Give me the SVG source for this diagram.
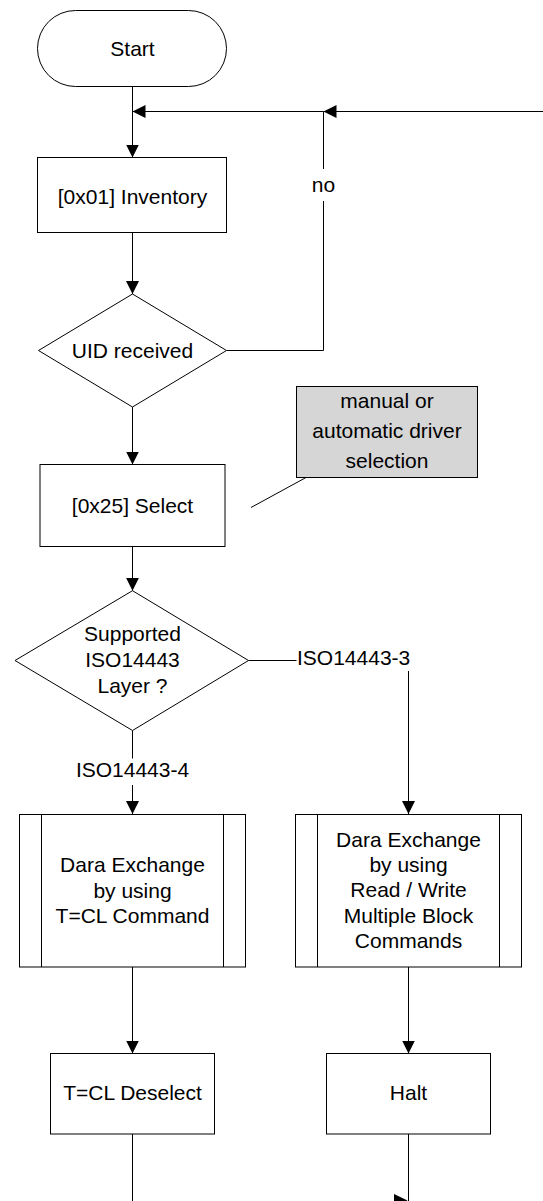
<svg xmlns="http://www.w3.org/2000/svg" width="543" height="1201" viewBox="0 0 543 1201">
  <style>
    .shape { fill: #ffffff; stroke: #000000; stroke-width: 1; }
    .note { fill: #d6d6d6; stroke: #000000; stroke-width: 1; }
    .line { fill: none; stroke: #000000; stroke-width: 1; }
    .head { fill: #000000; stroke: none; }
    text { font-family: "Liberation Sans", Arial, sans-serif; font-size: 21px; fill: #000000; text-anchor: middle; }
    .start { text-anchor: start; }
  </style>
  <defs>
    <marker id="arrow" markerUnits="userSpaceOnUse" markerWidth="13" markerHeight="13" refX="13" refY="6.5" orient="auto">
      <path class="head" d="M0,0 L13,6.5 L0,13 z"/>
    </marker>
  </defs>

  <!-- connectors -->
  <g id="connectors">
    <line class="line" x1="132.5" y1="86.5" x2="132.5" y2="157.5" marker-end="url(#arrow)"/>
    <line class="line" x1="543" y1="111.5" x2="323.5" y2="111.5" marker-end="url(#arrow)"/>
    <line class="line" x1="323.5" y1="111.5" x2="132.5" y2="111.5" marker-end="url(#arrow)"/>
    <polyline class="line" points="226.5,350.5 323.5,350.5 323.5,201"/>
    <line class="line" x1="323.5" y1="169" x2="323.5" y2="111.5"/>
    <text x="323.5" y="191.5">no</text>
    <line class="line" x1="132.5" y1="232.5" x2="132.5" y2="294" marker-end="url(#arrow)"/>
    <line class="line" x1="132.5" y1="407" x2="132.5" y2="464.5" marker-end="url(#arrow)"/>
    <line class="line" x1="132.5" y1="546.5" x2="132.5" y2="590.7" marker-end="url(#arrow)"/>
    <line class="line" x1="306" y1="477.5" x2="251" y2="507.5"/>
    <line class="line" x1="132.5" y1="730.5" x2="132.5" y2="758.5"/>
    <text x="132.5" y="777.3">ISO14443-4</text>
    <line class="line" x1="132.5" y1="785" x2="132.5" y2="814" marker-end="url(#arrow)"/>
    <line class="line" x1="248.5" y1="660.5" x2="296.5" y2="660.5"/>
    <text class="start" x="297" y="664.5">ISO14443-3</text>
    <line class="line" x1="408.5" y1="671" x2="408.5" y2="814" marker-end="url(#arrow)"/>
    <line class="line" x1="132.5" y1="967" x2="132.5" y2="1053.5" marker-end="url(#arrow)"/>
    <line class="line" x1="408.5" y1="967" x2="408.5" y2="1053.5" marker-end="url(#arrow)"/>
    <line class="line" x1="132.5" y1="1134" x2="132.5" y2="1201"/>
    <line class="line" x1="408.5" y1="1134" x2="408.5" y2="1201"/>
    <path class="head" d="M394,1194 L407.5,1200.5 L394,1207 z"/>
  </g>

  <g id="start">
    <rect class="shape" x="37.5" y="10.5" width="189" height="76" rx="38" ry="38"/>
    <text x="132.5" y="55.5">Start</text>
  </g>

  <g id="inventory">
    <rect class="shape" x="37.5" y="157.5" width="189" height="75"/>
    <text x="132.5" y="203.5">[0x01] Inventory</text>
  </g>

  <g id="uid-received">
    <polygon class="shape" points="132.5,294 226.5,350.5 132.5,407 38.5,350.5"/>
    <text x="132.5" y="357.5">UID received</text>
  </g>

  <g id="driver-note">
    <rect class="note" x="296.5" y="386.5" width="181" height="91"/>
    <text x="387" y="408.3">manual or</text>
    <text x="387" y="438.3">automatic driver</text>
    <text x="387" y="468.3">selection</text>
  </g>

  <g id="select">
    <rect class="shape" x="40" y="464.5" width="185" height="82"/>
    <text x="132.5" y="512.5">[0x25] Select</text>
  </g>

  <g id="layer-decision">
    <polygon class="shape" points="132.5,590.7 248.5,660.5 132.5,730.5 15,660.5"/>
    <text x="132.5" y="640.5">Supported</text>
    <text x="132.5" y="666.8">ISO14443</text>
    <text x="132.5" y="693">Layer ?</text>
  </g>

  <g id="tcl-exchange">
    <rect class="shape" x="19.5" y="814.5" width="226" height="152.5"/>
    <line class="line" x1="41.5" y1="814.5" x2="41.5" y2="967"/>
    <line class="line" x1="223.5" y1="814.5" x2="223.5" y2="967"/>
    <text x="132.5" y="872.3">Dara Exchange</text>
    <text x="132.5" y="897.8">by using</text>
    <text x="132.5" y="923.3">T=CL Command</text>
  </g>

  <g id="block-exchange">
    <rect class="shape" x="295.5" y="814.5" width="226" height="152.5"/>
    <line class="line" x1="317.5" y1="814.5" x2="317.5" y2="967"/>
    <line class="line" x1="499.5" y1="814.5" x2="499.5" y2="967"/>
    <text x="408.5" y="846.7">Dara Exchange</text>
    <text x="408.5" y="872">by using</text>
    <text x="408.5" y="897.2">Read / Write</text>
    <text x="408.5" y="922.5">Multiple Block</text>
    <text x="408.5" y="947.7">Commands</text>
  </g>

  <g id="tcl-deselect">
    <rect class="shape" x="50.5" y="1053.5" width="164" height="80.5"/>
    <text x="132.5" y="1100">T=CL Deselect</text>
  </g>

  <g id="halt">
    <rect class="shape" x="326.5" y="1053.5" width="164" height="80.5"/>
    <text x="408.5" y="1100">Halt</text>
  </g>
</svg>
